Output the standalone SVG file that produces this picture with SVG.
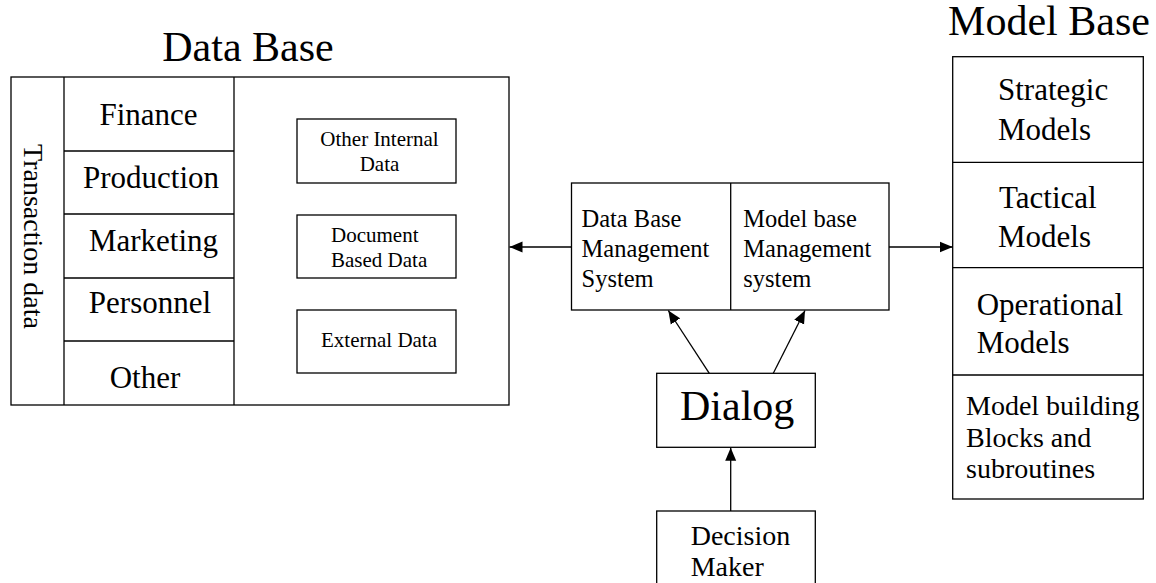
<svg xmlns="http://www.w3.org/2000/svg" width="1156" height="583" viewBox="0 0 1156 583">
<defs>
<style>
.box { fill: #fff; stroke: #000; stroke-width: 1.3; }
.d { fill: none; stroke: #000; stroke-width: 1.3; }
text { font-family: "Liberation Serif", "Times New Roman", serif; fill: #000; }
.t42 { font-size: 42px; }
.t31 { font-size: 31px; }
.t28 { font-size: 28px; }
.t24 { font-size: 24.5px; }
.t21 { font-size: 21px; }
.c { text-anchor: middle; }
.conn line { stroke: #000; stroke-width: 1.3; fill: none; }
</style>
<marker id="ah" markerWidth="14" markerHeight="12" refX="13" refY="6" orient="auto" markerUnits="userSpaceOnUse">
<path d="M0,0.5 L13,6 L0,11.5 Z" fill="#000"/>
</marker>
</defs>
<rect x="0" y="0" width="1156" height="583" fill="#fff"/>

<g id="database">
<text class="t42" x="248" y="61" text-anchor="middle">Data Base</text>
<rect class="box" x="11" y="77" width="498" height="328"/>
<line class="d" x1="64" y1="77" x2="64" y2="405"/>
<line class="d" x1="234" y1="77" x2="234" y2="405"/>
<line class="d" x1="64" y1="151" x2="234" y2="151"/>
<line class="d" x1="64" y1="214" x2="234" y2="214"/>
<line class="d" x1="64" y1="278" x2="234" y2="278"/>
<line class="d" x1="64" y1="341" x2="234" y2="341"/>
<text class="t28 c" transform="translate(24,236.5) rotate(90)">Transaction data</text>
<text class="t31 c" x="148.5" y="125">Finance</text>
<text class="t31 c" x="151" y="188">Production</text>
<text class="t31 c" x="153.5" y="251">Marketing</text>
<text class="t31 c" x="150" y="313">Personnel</text>
<text class="t31 c" x="145" y="388">Other</text>
</g>

<g id="other-internal">
<rect class="box" x="297" y="119" width="159" height="64"/>
<text class="t21 c" x="379.5" y="146">Other Internal</text>
<text class="t21 c" x="379.5" y="171">Data</text>
</g>
<g id="document-based">
<rect class="box" x="297" y="215" width="159" height="63"/>
<text class="t21" x="331" y="242">Document</text>
<text class="t21" x="331" y="267">Based Data</text>
</g>
<g id="external">
<rect class="box" x="297" y="310" width="159" height="63"/>
<text class="t21" x="321" y="347">External Data</text>
</g>

<g id="management">
<rect class="box" x="571.5" y="183" width="317.5" height="127"/>
<line class="d" x1="730.7" y1="183" x2="730.7" y2="310"/>
<text class="t24" x="581.5" y="227">Data Base</text>
<text class="t24" x="581.5" y="257">Management</text>
<text class="t24" x="581.5" y="287">System</text>
<text class="t24" x="743.3" y="227">Model base</text>
<text class="t24" x="743.3" y="257">Management</text>
<text class="t24" x="743.3" y="287">system</text>
</g>

<g id="modelbase">
<text class="t42" x="1049" y="35" text-anchor="middle">Model Base</text>
<rect class="box" x="952.7" y="56.7" width="190.6" height="442.3"/>
<line class="d" x1="952.7" y1="162.3" x2="1143.3" y2="162.3"/>
<line class="d" x1="952.7" y1="267.7" x2="1143.3" y2="267.7"/>
<line class="d" x1="952.7" y1="375" x2="1143.3" y2="375"/>
<text class="t31" x="998" y="100">Strategic</text>
<text class="t31" x="998" y="140">Models</text>
<text class="t31" x="999" y="208">Tactical</text>
<text class="t31" x="998" y="247">Models</text>
<text class="t31" x="976.7" y="315">Operational</text>
<text class="t31" x="976.7" y="353">Models</text>
<text class="t28" x="966" y="415">Model building</text>
<text class="t28" x="966" y="447">Blocks and</text>
<text class="t28" x="966" y="478">subroutines</text>
</g>

<g id="dialog">
<rect class="box" x="656.7" y="373.3" width="158.6" height="74"/>
<text class="t42" x="680" y="420">Dialog</text>
</g>

<g id="decision-maker">
<rect class="box" x="656.7" y="511" width="158.6" height="90"/>
<text class="t28" x="690.7" y="545">Decision</text>
<text class="t28" x="690.7" y="576">Maker</text>
</g>

<g class="conn" id="connectors">
<line x1="571.5" y1="247" x2="509.5" y2="247" marker-end="url(#ah)"/>
<line x1="889" y1="247" x2="952.7" y2="247" marker-end="url(#ah)"/>
<line x1="709.3" y1="373.3" x2="668.3" y2="310.5" marker-end="url(#ah)"/>
<line x1="773.3" y1="373.3" x2="805" y2="310.5" marker-end="url(#ah)"/>
<line x1="730.7" y1="511" x2="730.7" y2="447.8" marker-end="url(#ah)"/>
</g>
</svg>
